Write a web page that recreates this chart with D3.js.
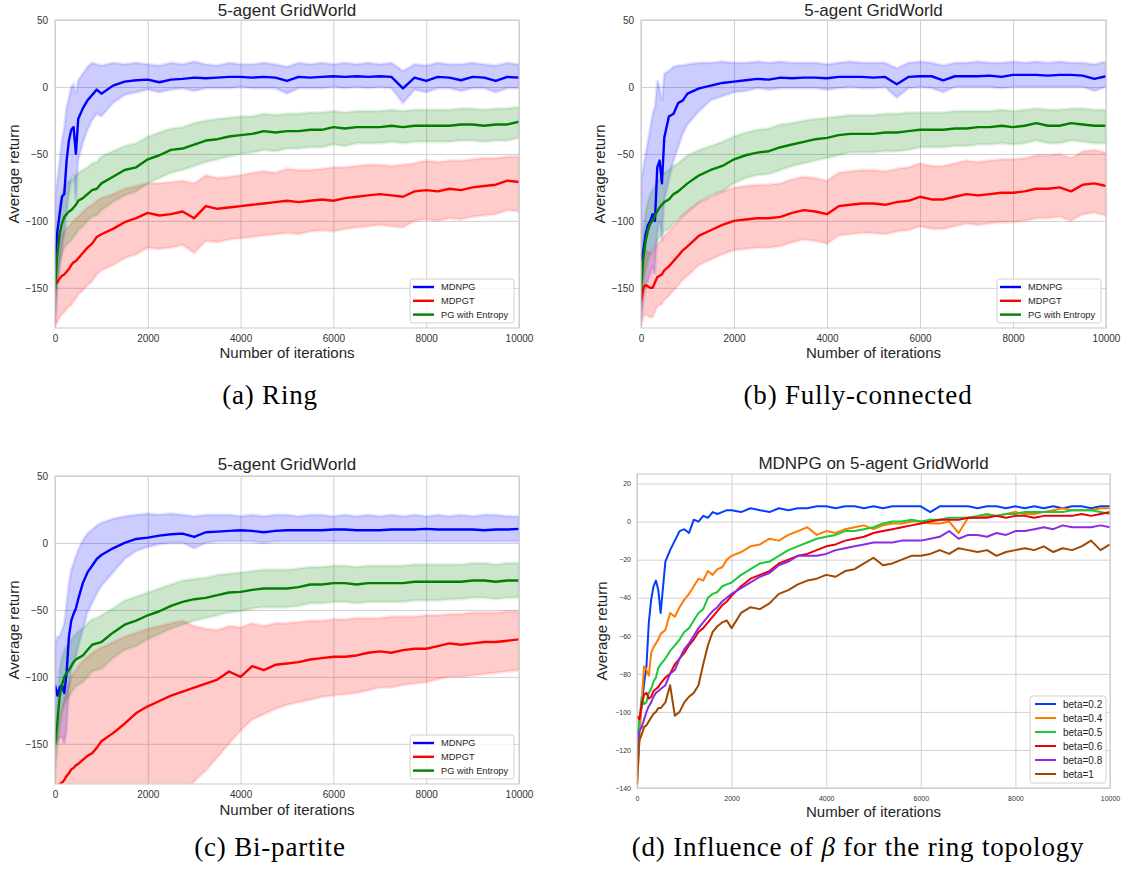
<!DOCTYPE html>
<html lang="en">
<head>
<meta charset="UTF-8">
<title>MDNPG on 5-agent GridWorld</title>
<script src="https://d3js.org/d3.v7.min.js"></script>
<style>
  body { margin: 0; background: #fff; }
  svg text { font-family: "Liberation Sans", Arial, sans-serif; fill: #262626; }
  .caption { font-family: "Liberation Serif", "Times New Roman", serif; font-size: 27px; letter-spacing: 0.8px; fill: #000; }
</style>
</head>
<body>
<svg id="fig" width="1129" height="876"></svg>
<script>
// ---- iterations used for panels (a)-(c)
var iter = [0,50,100,150,200,250,300,350,400,450,500,
  600,700,800,900,1000,
  1250,1500,1750,2000,2250,2500,2750,3000,3250,3500,
  3750,4000,4250,4500,4750,5000,5250,5500,5750,6000,
  6250,6500,6750,7000,7250,7500,7750,8000,8250,8500,
  8750,9000,9250,9500,9750,10000];

// ---- (a) Ring
var ringMdnpg = [-135,-108,-95,-82,-80,-55,-40,-32,-30,-50,-24, -16,-10,-6,-2,-5,
  1,4,5,5.5,3.5,5.5,6,7,6.5,7, 7.5,7.5,7,7.5,7,4.5,7.5,7,7.5,8,
  7.5,8,7.5,8,7.5,-1,7,4.5,7.5,7, 5,7.5,7,4.5,7.5,7];
var ringMdnpgHi = [-80,-70,-55,-40,-30,-15,-8,0,2,-5,5, 10,15,18,17,16,
  18,17,18,17,16,18,17,19,17,16, 18,17,17,18,17,15,18,17,18,17,
  18,17,18,17,18,12,17,16,18,17, 17,18,17,16,18,17];
var ringMdnpgLo = [-180,-150,-135,-120,-110,-95,-80,-70,-65,-85,-55, -42,-32,-25,-20,-22,
  -12,-6,-4,-2,-4,-2,-1,-3,-1,-1, -1,0,-1,-1,-1,-5,-1,-1,-1,0,
  -1,0,-1,0,-1,-12,-2,-4,-1,-1, -3,-1,-1,-4,-1,-1];
var ringMdpgt = [-147,-146,-143,-141,-140,-138,-136,-133,-131,-130,-128, -124,-120,-117,-112,-110,
  -106,-101,-98,-94,-96,-95,-93,-98,-89,-91, -90,-89,-88,-87,-86,-85,-86,-85,-84,-85,
  -83,-82,-81,-80,-81,-82,-78,-77,-78,-76, -77,-75,-74,-73,-70,-71];
var ringMdpgtHi = [-120,-115,-110,-110,-108,-105,-104,-102,-100,-98,-97, -93,-90,-88,-85,-83,
  -80,-76,-74,-72,-72,-71,-70,-72,-66,-68, -67,-66,-64,-63,-64,-61,-62,-62,-61,-60,
  -60,-59,-58,-58,-59,-58,-57,-55,-56,-55, -55,-54,-53,-53,-52,-52];
var ringMdpgtLo = [-178,-176,-172,-170,-168,-166,-164,-163,-160,-158,-155, -152,-148,-145,-140,-137,
  -133,-128,-125,-120,-121,-120,-118,-124,-115,-116, -114,-113,-112,-111,-110,-109,-110,-108,-107,-108,
  -106,-105,-104,-103,-104,-105,-100,-99,-100,-98, -99,-97,-96,-95,-92,-93];
var ringPge = [-152,-125,-110,-102,-97,-95,-93,-92,-90,-88,-85, -83,-80,-77,-76,-72,
  -67,-62,-60,-54,-51,-47,-46,-43,-40,-39, -37,-36,-35,-33,-34,-33,-33,-32,-32,-30,
  -31,-30,-30,-30,-29,-30,-29,-29,-29,-29, -28,-28,-29,-28,-28,-26];
var ringPgeHi = [-135,-105,-88,-80,-75,-72,-70,-70,-68,-66,-64, -62,-60,-57,-56,-52,
  -48,-44,-42,-37,-34,-31,-30,-27,-25,-24, -23,-22,-22,-20,-21,-20,-20,-19,-19,-18,
  -19,-18,-18,-18,-17,-18,-17,-17,-17,-17, -16,-16,-17,-16,-16,-15];
var ringPgeLo = [-170,-145,-132,-125,-120,-118,-116,-115,-112,-110,-107, -104,-100,-97,-96,-92,
  -86,-81,-78,-72,-68,-64,-62,-59,-56,-54, -52,-50,-49,-47,-48,-46,-46,-45,-45,-43,
  -44,-42,-42,-42,-41,-42,-41,-41,-41,-41, -40,-40,-41,-40,-40,-38];

// ---- (b) Fully-connected
var fcMdnpg = [-130,-122,-110,-103,-100,-95,-100,-60,-55,-72,-38, -22,-20,-12,-10,-5,
  -1,1,3,4,5,6,5.5,7,6.5,7, 7,6.5,7.5,7.5,7.5,7,7.5,2,7.5,8,
  8,5,8,8,8,8.5,7.5,9,9,9, 8.5,9,9,8.5,6,8];
var fcMdnpgHi = [-70,-60,-50,-40,-30,-20,-15,5,0,-10,10, 12,15,16,16,17,
  18,18,19,18,18,19,18,19,18,18, 18,17,18,19,18,18,18,14,18,19,
  18,16,18,18,19,18,18,19,18,19, 18,19,18,18,17,19];
var fcMdnpgLo = [-175,-160,-150,-145,-140,-135,-140,-110,-100,-115,-85, -70,-55,-45,-35,-28,
  -18,-10,-7,-4,-3,-1,-2,-1,-1,-1, -1,-2,-1,0,-1,-1,0,-8,-1,0,
  -1,-4,0,0,0,0,-1,0,0,0, 0,0,0,0,-3,0];
var fcMdpgt = [-160,-150,-148,-149,-150,-150,-146,-142,-141,-140,-137, -134,-130,-126,-122,-119,
  -111,-107,-103,-100,-99,-98,-98,-97,-94,-92, -93,-95,-89,-88,-87,-87,-88,-86,-85,-82,
  -84,-84,-82,-80,-81,-80,-79,-79,-78,-76, -76,-75,-78,-73,-72,-74];
var fcMdpgtHi = [-135,-125,-122,-123,-124,-124,-120,-117,-116,-114,-111, -108,-104,-100,-96,-93,
  -86,-82,-78,-75,-74,-73,-73,-72,-69,-67, -68,-70,-64,-63,-62,-62,-63,-61,-60,-57,
  -59,-59,-57,-55,-56,-55,-54,-54,-53,-51, -51,-50,-53,-48,-47,-49];
var fcMdpgtLo = [-180,-172,-170,-171,-172,-172,-168,-164,-163,-162,-159, -156,-152,-148,-144,-141,
  -133,-129,-125,-122,-121,-120,-120,-119,-116,-114, -115,-117,-111,-110,-109,-109,-110,-108,-107,-104,
  -106,-106,-104,-102,-103,-102,-101,-101,-100,-98, -98,-97,-100,-95,-94,-96];
var fcPge = [-152,-128,-115,-107,-102,-100,-96,-93,-90,-88,-86, -84,-80,-78,-75,-72,
  -66,-62,-59,-54,-51,-49,-48,-45,-43,-41, -39,-38,-36,-35,-35,-35,-34,-34,-33,-32,
  -32,-32,-31,-31,-30,-30,-29,-30,-29,-27, -29,-29,-27,-28,-29,-29];
var fcPgeHi = [-135,-108,-93,-85,-80,-77,-74,-71,-68,-66,-64, -62,-59,-57,-54,-51,
  -47,-44,-41,-37,-34,-32,-31,-28,-27,-25, -24,-23,-22,-21,-21,-21,-20,-20,-19,-19,
  -19,-19,-18,-18,-18,-18,-17,-18,-17,-16, -17,-17,-16,-16,-17,-17];
var fcPgeLo = [-170,-148,-137,-130,-125,-122,-118,-115,-112,-110,-108, -106,-102,-99,-96,-93,
  -86,-81,-78,-72,-68,-66,-65,-62,-59,-57, -55,-53,-51,-49,-49,-49,-48,-48,-47,-45,
  -45,-45,-44,-44,-43,-43,-42,-43,-42,-40, -42,-42,-40,-41,-42,-42];

// ---- (c) Bi-partite
var bpMdnpg = [-106,-114,-108,-106,-112,-97,-70,-58,-53,-49,-42, -30,-22,-17,-12,-9,
  -4,0,3,4,5.5,6.5,7,4.5,8,8.5, 9,9.5,9,8,9,9.5,9.5,9.5,9.5,10,
  10,9.5,9.5,9.5,10,10,10,10.5,10,10, 10,10,9.5,10,10,10.5];
var bpMdnpgHi = [-75,-70,-70,-65,-60,-45,-30,-20,-15,-10,-5, 2,7,10,13,15,
  18,20,21,22,21,22,21,20,21,21, 21,20,21,20,21,21,20,21,21,20,
  21,20,21,20,21,20,21,20,21,20, 21,20,21,21,20,20];
var bpMdnpgLo = [-140,-150,-145,-145,-150,-140,-110,-95,-90,-85,-78, -65,-52,-45,-38,-32,
  -22,-12,-6,-3,-1,0,0,-4,0,1, 1,1,1,0,1,1,1,1,1,1,
  1,1,1,1,1,1,1,1,1,1, 1,1,1,1,1,1];
var bpMdpgt = [-185,-182,-180,-179,-177,-174,-172,-169,-168,-166,-165, -162,-159,-157,-153,-148,
  -142,-135,-127,-122,-118,-114,-111,-108,-105,-102, -96,-100,-92,-95,-91,-90,-89,-87,-86,-85,
  -85,-84,-82,-81,-82,-80,-79,-79,-77,-75, -76,-75,-74,-74,-73,-72];
var bpMdpgtHi = [-150,-145,-135,-125,-115,-110,-105,-100,-97,-95,-92, -88,-85,-82,-80,-78,
  -74,-70,-67,-64,-62,-60,-58,-62,-64,-65, -62,-63,-60,-62,-60,-60,-59,-58,-58,-57,
  -57,-56,-56,-56,-55,-55,-55,-54,-54,-53, -53,-52,-52,-52,-51,-51];
var bpMdpgtLo = [-190,-190,-190,-190,-190,-190,-190,-190,-190,-190,-190, -190,-190,-190,-190,-190,
  -190,-190,-190,-190,-190,-190,-190,-178,-170,-160, -150,-140,-132,-128,-124,-121,-119,-117,-115,-114,
  -113,-112,-110,-108,-108,-106,-105,-104,-102,-100, -100,-99,-98,-97,-96,-95];
var bpPge = [-151,-135,-115,-106,-100,-97,-95,-92,-89,-87,-86, -84,-80,-76,-75,-74,
  -67,-61,-58,-54,-51,-47,-44,-42,-41,-39, -37,-36.5,-35,-34,-34,-34,-33,-31,-31,-30,
  -30,-31,-30,-30,-30,-30,-29,-29,-29,-29, -29,-28,-28,-29,-28,-28];
var bpPgeHi = [-135,-115,-95,-85,-80,-77,-75,-72,-70,-68,-66, -64,-60,-57,-56,-54,
  -49,-43,-40,-37,-34,-31,-28,-27,-26,-24, -23,-22,-21,-20,-20,-20,-19,-18,-18,-17,
  -17,-18,-17,-17,-17,-17,-16,-16,-16,-16, -16,-15,-15,-16,-15,-15];
var bpPgeLo = [-170,-155,-135,-126,-120,-117,-115,-112,-109,-107,-106, -104,-100,-96,-95,-94,
  -86,-80,-77,-72,-68,-64,-61,-58,-56,-54, -52,-51,-49,-48,-48,-48,-47,-45,-45,-44,
  -44,-45,-44,-44,-44,-44,-43,-43,-43,-42, -42,-41,-41,-42,-41,-41];

// ---- (d) influence of beta, ring topology
var betaIter = [0,50,100,150,200,250,300,350,400,450,500,
  600,700,800,900,1000,1100,1200,1300,1400,1500,1600,1700,1800,1900,2000,
  2200,2400,2600,2800,3000,3200,3400,3600,3800,4000,
  4200,4400,4600,4800,5000,5200,5400,5600,5800,6000,
  6200,6400,6600,6800,7000,7200,7400,7600,7800,8000,
  8200,8400,8600,8800,9000,9200,9400,9600,9800,10000];
var beta02 = [-115,-106,-97,-85,-76,-53,-41,-34,-31,-36,-48,
  -21,-15,-10,-5,-4,-6,1,0,3,2,5,4,5,6,6,
  5,7,6,5,7,6,7,7,8,8, 7,8,8,7,8,7,8,8,8,8,
  5,8,8,8,8,7,8,8,7,8, 7,8,7,8,7,8,8,7,8,8];
var beta04 = [-139,-115,-94,-76,-78,-81,-69,-66,-64,-62,-59,
  -57,-48,-50,-45,-41,-38,-34,-30,-31,-26,-28,-25,-24,-20,-18,
  -16,-13,-12,-9,-10,-7,-5,-3,-7,-5, -6,-4,-3,-2,-4,-2,-1,-1,0,0,
  -1,-1,0,-6,2,2,3,3,4,5, 4,4,5,6,7,6,6,6,7,7];
var beta05 = [-120,-105,-92,-96,-95,-90,-88,-84,-82,-77,-75,
  -72,-68,-65,-62,-58,-56,-52,-48,-46,-40,-38,-37,-34,-33,-32,
  -28,-25,-22,-21,-18,-15,-13,-11,-9,-8, -7,-5,-5,-4,-3,-1,0,0,1,0,
  1,1,2,2,2,3,4,3,4,4, 5,5,5,5,5,6,6,6,5,4];
var beta06 = [-102,-104,-96,-91,-90,-93,-92,-89,-88,-87,-85,
  -82,-80,-75,-72,-69,-65,-62,-58,-56,-53,-50,-47,-44,-42,-39,
  -34,-30,-28,-26,-22,-20,-18,-17,-15,-13, -12,-10,-9,-8,-6,-5,-4,-3,-2,-1,
  0,1,1,1,2,2,2,3,2,3, 3,2,3,3,3,3,4,3,4,5];
var beta08 = [-125,-110,-108,-104,-100,-97,-95,-92,-90,-89,-88,
  -86,-80,-78,-72,-67,-64,-60,-56,-53,-50,-47,-45,-42,-40,-38,
  -35,-32,-29,-27,-23,-21,-18,-18,-18,-17, -15,-14,-13,-12,-11,-11,-11,-10,-10,-10,
  -9,-8,-5,-9,-7,-7,-8,-6,-7,-5, -5,-4,-3,-4,-2,-3,-3,-3,-2,-3];
var beta1 = [-138,-115,-112,-108,-107,-105,-103,-101,-100,-98,-98,
  -95,-86,-102,-100,-95,-92,-90,-86,-75,-65,-58,-55,-53,-52,-56,
  -48,-45,-46,-43,-38,-36,-33,-31,-30,-28, -29,-26,-25,-22,-19,-23,-22,-20,-18,-18,
  -17,-15,-17,-14,-15,-16,-15,-18,-16,-15, -14,-15,-13,-16,-14,-15,-13,-10,-15,-12];

// ---- labels and ticks
var methodNames = ["MDNPG", "MDPGT", "PG with Entropy"];
var betaNames = ["beta=0.2", "beta=0.4", "beta=0.5", "beta=0.6", "beta=0.8", "beta=1"];
var xTicks = [0, 2000, 4000, 6000, 8000, 10000];
var yTicksMain = [-150, -100, -50, 0, 50];
var yTicksBeta = [-140, -120, -100, -80, -60, -40, -20, 0, 20];

var GRID = "#d0d0d0";
var methodColors = ["#0000ff", "#ff0000", "#008000"];
var betaColors = ["#023eff", "#ff7c00", "#1ac938", "#e8000b", "#8b2be2", "#9f4800"];

var svg = d3.select("#fig");
svg.append("rect").attr("width", 1129).attr("height", 876).attr("fill", "#fff");
var defs = svg.append("defs");

function methodSeries(m, hi, lo) {
  // m, hi, lo: arrays of [mean, upper, lower] for the three methods
  return methodNames.map(function(name, i) {
    return { name: name, color: methodColors[i], mean: m[i], hi: hi[i], lo: lo[i] };
  });
}

var panels = [
  { id: "a", left: 55, right: 519, top: 20, bottom: 328, yDomain: [-180, 50], yTicks: yTicksMain,
    tick: 10, xPad: 7, yPad: 7, title: "5-agent GridWorld", titleY: 15.5, xlabelY: 358, ylabelX: 14,
    iter: iter, lw: 2.4, capX: 270, capY: 404, caption: "(a) Ring",
    series: methodSeries([ringMdnpg, ringMdpgt, ringPge], [ringMdnpgHi, ringMdpgtHi, ringPgeHi], [ringMdnpgLo, ringMdpgtLo, ringPgeLo]),
    legend: { w: 104, h: 44, right: 5, bottom: 5, top0: 8, step: 13.8, x0: 3, x1: 24, tx: 31, font: 9.3 } },
  { id: "b", left: 641, right: 1106, top: 20, bottom: 328, yDomain: [-180, 50], yTicks: yTicksMain,
    tick: 10, xPad: 7, yPad: 7, title: "5-agent GridWorld", titleY: 15.5, xlabelY: 358, ylabelX: 600,
    iter: iter, lw: 2.4, capX: 858, capY: 404, caption: "(b) Fully-connected",
    series: methodSeries([fcMdnpg, fcMdpgt, fcPge], [fcMdnpgHi, fcMdpgtHi, fcPgeHi], [fcMdnpgLo, fcMdpgtLo, fcPgeLo]),
    legend: { w: 104, h: 44, right: 5, bottom: 5, top0: 8, step: 13.8, x0: 3, x1: 24, tx: 31, font: 9.3 } },
  { id: "c", left: 55, right: 519, top: 476, bottom: 784, yDomain: [-180, 50], yTicks: yTicksMain,
    tick: 10, xPad: 7, yPad: 7, title: "5-agent GridWorld", titleY: 470, xlabelY: 815, ylabelX: 14,
    iter: iter, lw: 2.4, capX: 270, capY: 856, caption: "(c) Bi-partite",
    series: methodSeries([bpMdnpg, bpMdpgt, bpPge], [bpMdnpgHi, bpMdpgtHi, bpPgeHi], [bpMdnpgLo, bpMdpgtLo, bpPgeLo]),
    legend: { w: 104, h: 44, right: 5, bottom: 5, top0: 8, step: 13.8, x0: 3, x1: 24, tx: 31, font: 9.3 } },
  { id: "d", left: 637, right: 1110, top: 474, bottom: 788, yDomain: [-140, 25], yTicks: yTicksBeta,
    tick: 7, xPad: 8, yPad: 6, title: "MDNPG on 5-agent GridWorld", titleY: 468.5, xlabelY: 816.5, ylabelX: 602,
    iter: betaIter, lw: 2, capX: 858, capY: 856, caption: null,
    series: betaNames.map(function(name, i) {
      return { name: name, color: betaColors[i], mean: [beta02, beta04, beta05, beta06, beta08, beta1][i] };
    }),
    legend: { w: 76, h: 87, right: 4, bottom: 5, top0: 8, step: 14, x0: 5, x1: 26, tx: 33, font: 10 } }
];

panels.forEach(drawPanel);

function drawPanel(p) {
  var w = p.right - p.left, h = p.bottom - p.top;
  var g = svg.append("g").attr("transform", "translate(" + p.left + "," + p.top + ")");
  var x = d3.scaleLinear().domain([0, 10000]).range([0, w]);
  var y = d3.scaleLinear().domain(p.yDomain).range([h, 0]);

  defs.append("clipPath").attr("id", "clip-" + p.id)
    .append("rect").attr("width", w).attr("height", h);

  // grid lines + tick labels (no tick marks, seaborn whitegrid look)
  var xa = g.append("g")
    .attr("transform", "translate(0," + h + ")")
    .call(d3.axisBottom(x).tickValues(xTicks).tickSize(-h).tickPadding(p.xPad).tickFormat(d3.format("d")));
  var ya = g.append("g")
    .call(d3.axisLeft(y).tickValues(p.yTicks).tickSize(-w).tickPadding(p.yPad).tickFormat(d3.format("d")));
  [xa, ya].forEach(function(a) {
    a.select(".domain").remove();
    a.selectAll("line").attr("stroke", GRID).attr("stroke-width", 1);
    a.selectAll("text").attr("font-size", p.tick).style("fill", "#333");
  });

  var plot = g.append("g").attr("clip-path", "url(#clip-" + p.id + ")");

  // shaded bands first (soft edge stroke for the noisy fringe), then the mean curves
  p.series.forEach(function(s) {
    if (!s.hi) return;
    var pts = p.iter.map(function(t, i) { return { t: t, hi: s.hi[i], lo: s.lo[i] }; });
    plot.append("path")
      .datum(pts)
      .attr("fill", s.color)
      .attr("fill-opacity", 0.2)
      .attr("stroke", s.color)
      .attr("stroke-opacity", 0.1)
      .attr("stroke-width", 3)
      .attr("d", d3.area()
        .x(function(d) { return x(d.t); })
        .y0(function(d) { return y(d.lo); })
        .y1(function(d) { return y(d.hi); }));
  });
  p.series.forEach(function(s) {
    var pts = p.iter.map(function(t, i) { return { t: t, v: s.mean[i] }; });
    plot.append("path")
      .datum(pts)
      .attr("fill", "none")
      .attr("stroke", s.color)
      .attr("stroke-width", p.lw)
      .attr("stroke-linejoin", "round")
      .attr("d", d3.line()
        .defined(function(d) { return d.v != null; })
        .x(function(d) { return x(d.t); })
        .y(function(d) { return y(d.v); }));
  });

  // frame
  g.append("rect").attr("width", w).attr("height", h)
    .attr("fill", "none").attr("stroke", GRID).attr("stroke-width", 1.2);

  // legend
  var L = p.legend;
  var lg = g.append("g")
    .attr("transform", "translate(" + (w - L.right - L.w) + "," + (h - L.bottom - L.h) + ")");
  lg.append("rect").attr("width", L.w).attr("height", L.h).attr("rx", 2.5)
    .attr("fill", "#fff").attr("fill-opacity", 0.8).attr("stroke", "#d0d0d0");
  var items = lg.selectAll(".item").data(p.series).enter().append("g")
    .attr("transform", function(d, i) { return "translate(0," + (L.top0 + i * L.step) + ")"; });
  items.append("line").attr("x1", L.x0).attr("x2", L.x1)
    .attr("stroke", function(d) { return d.color; }).attr("stroke-width", p.lw);
  items.append("text").attr("x", L.tx).attr("dy", "0.35em")
    .attr("font-size", L.font).text(function(d) { return d.name; });

  // title and axis labels
  svg.append("text").attr("x", (p.left + p.right) / 2).attr("y", p.titleY)
    .attr("text-anchor", "middle").attr("font-size", 17).text(p.title);
  svg.append("text").attr("x", (p.left + p.right) / 2).attr("y", p.xlabelY)
    .attr("text-anchor", "middle").attr("font-size", 15).text("Number of iterations");
  svg.append("text")
    .attr("transform", "translate(" + p.ylabelX + "," + ((p.top + p.bottom) / 2) + ") rotate(-90)")
    .attr("text-anchor", "middle").attr("dy", "0.35em").attr("font-size", 15).text("Average return");

  // caption under the subplot
  if (p.caption) {
    svg.append("text").attr("class", "caption").attr("x", p.capX).attr("y", p.capY)
      .attr("text-anchor", "middle").text(p.caption);
  }
}

// caption (d) has an italic beta
var capD = svg.append("text").attr("class", "caption").attr("x", 858).attr("y", 856).attr("text-anchor", "middle");
capD.append("tspan").text("(d) Influence of ");
capD.append("tspan").attr("font-style", "italic").text("β");
capD.append("tspan").text(" for the ring topology");
</script>
</body>
</html>
